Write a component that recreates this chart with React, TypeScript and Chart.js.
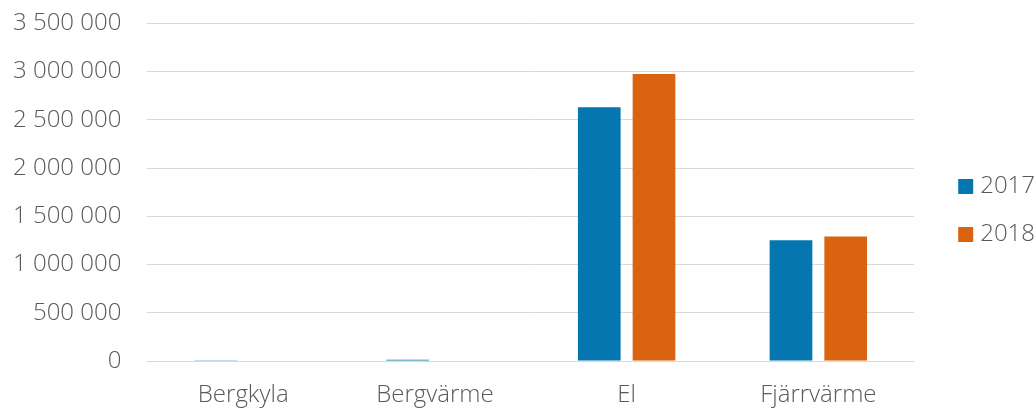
import React, { useEffect, useRef } from "react";
import { Chart, registerables } from "chart.js";

Chart.register(...registerables);

const categories = ["Bergkyla", "Bergvärme", "El", "Fjärrvärme"];
const seriesNames = ["2017", "2018"];
const values2017 = [7000, 12000, 2630000, 1252000];
const values2018 = [0, 0, 2976000, 1290000];
const yTicks = [0, 500000, 1000000, 1500000, 2000000, 2500000, 3000000, 3500000];
const colors = ["#0576B0", "#DA6310"];

const fmt = (v: number) => String(v).replace(/\B(?=(\d{3})+(?!\d))/g, " ");

export default function App() {
  const ref = useRef<HTMLCanvasElement | null>(null);
  useEffect(() => {
    if (!ref.current) return;
    const font = { family: "'Open Sans', sans-serif", size: 24, weight: 300 as any };
    const chart = new Chart(ref.current, {
      type: "bar",
      data: {
        labels: categories,
        datasets: [
          { label: seriesNames[0], data: values2017, backgroundColor: colors[0], categoryPercentage: 0.571, barPercentage: 0.78 },
          { label: seriesNames[1], data: values2018, backgroundColor: colors[1], categoryPercentage: 0.571, barPercentage: 0.78 },
        ],
      },
      options: {
        responsive: false,
        animation: false,
        layout: { padding: { left: 4, right: -9, top: 0, bottom: 0 } },
        plugins: {
          tooltip: { enabled: false },
          legend: {
            position: "right",
            align: "center",
            title: { display: true, text: "", font: { size: 10 }, padding: { top: 0, bottom: 1 } },
            labels: {
              usePointStyle: true,
              pointStyle: "rect",
              boxWidth: 5,
              boxHeight: 15,
              padding: 24,
              color: "#595959",
              font,
            },
          },
        },
        scales: {
          x: {
            grid: { display: false },
            border: { display: false },
            ticks: { color: "#595959", font, padding: 12, maxRotation: 0 },
            afterFit: (s: any) => { s.height = 47; },
          },
          y: {
            min: yTicks[0],
            max: yTicks[yTicks.length - 1],
            border: { display: false },
            grid: { color: "#d9d9d9", lineWidth: 1, drawTicks: true, tickLength: 17, tickColor: "rgba(0,0,0,0)" },
            afterBuildTicks: (s: any) => { s.ticks = yTicks.map((v) => ({ value: v })); },
            ticks: { color: "#595959", font, padding: 9, callback: (v: any) => fmt(Number(v)) },
          },
          yRightGap: {
            position: "right",
            display: true,
            grid: { display: false, drawTicks: false },
            border: { display: false },
            ticks: { display: false },
            afterFit: (s: any) => { s.width = 25; },
          },
        },
      },
    });
    return () => chart.destroy();
  }, []);
  return (
    <div style={{ position: "absolute", left: 0, top: 0, width: 1036, height: 408 }}>
      <canvas ref={ref} width={1036} height={408} />
    </div>
  );
}
